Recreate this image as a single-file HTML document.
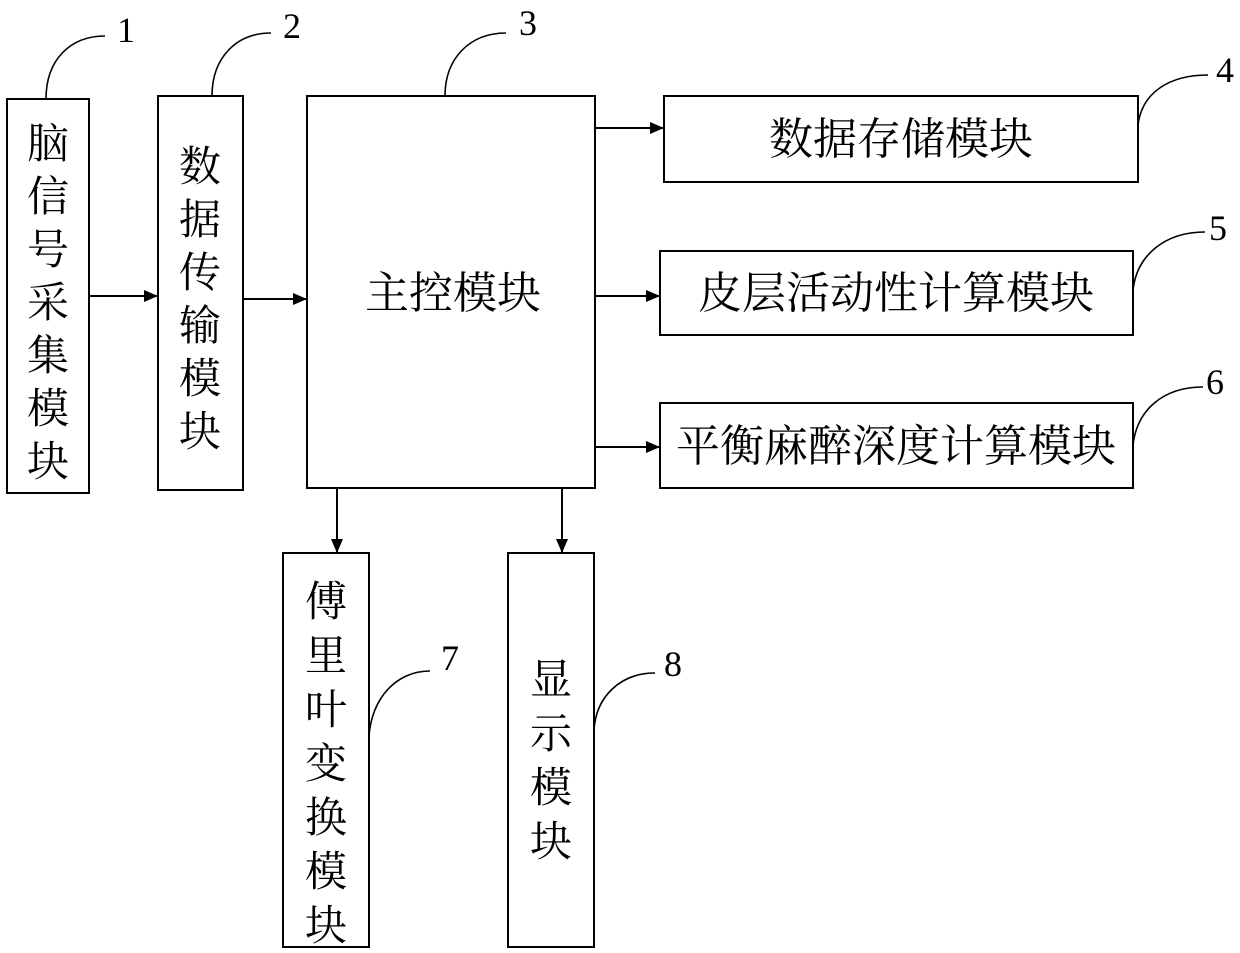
<!DOCTYPE html>
<html><head><meta charset="utf-8"><style>html,body{margin:0;padding:0;background:#fff}</style></head>
<body>
<svg width="1240" height="953" viewBox="0 0 1240 953" xmlns="http://www.w3.org/2000/svg" style="display:block">
<defs><marker id="a" markerWidth="14" markerHeight="12" refX="14" refY="6" orient="auto" markerUnits="userSpaceOnUse"><path d="M0,0 L14,6 L0,12 Z" fill="#000"/></marker></defs>
<g fill="none" stroke="#000" stroke-width="2">
<rect x="7" y="99" width="82" height="394"/>
<rect x="158" y="96" width="85" height="394"/>
<rect x="307" y="96" width="288" height="392"/>
<rect x="664" y="96" width="474" height="86"/>
<rect x="660" y="251" width="473" height="84"/>
<rect x="660" y="403" width="473" height="85"/>
<rect x="283" y="553" width="86" height="394"/>
<rect x="508" y="553" width="86" height="394"/>
<line x1="89" y1="296" x2="158" y2="296" marker-end="url(#a)"/>
<line x1="243" y1="299" x2="307" y2="299" marker-end="url(#a)"/>
<line x1="595" y1="128" x2="664" y2="128" marker-end="url(#a)"/>
<line x1="595" y1="296" x2="660" y2="296" marker-end="url(#a)"/>
<line x1="595" y1="447" x2="660" y2="447" marker-end="url(#a)"/>
<line x1="337" y1="488" x2="337" y2="553" marker-end="url(#a)"/>
<line x1="562" y1="488" x2="562" y2="553" marker-end="url(#a)"/>
<g stroke-width="1.6">
<path d="M46,99 C46,60 70,36 105,36"/>
<path d="M212,96 C212,58 236,33 271,33"/>
<path d="M445,96 C445,58 470,33 506,33"/>
<path d="M1138,125 C1142,92 1170,75 1208,75"/>
<path d="M1133,290 C1137,255 1165,232 1205,232"/>
<path d="M1133,445 C1137,410 1163,387 1203,387"/>
<path d="M369,737 C371,700 395,671 430,671"/>
<path d="M594,730 C596,697 620,673 655,673"/>
</g></g>
<g font-family="'Liberation Serif','Noto Serif CJK SC',serif" font-size="36" text-anchor="middle" fill="#000">
<text x="126" y="42">1</text><text x="292" y="38">2</text><text x="528" y="35">3</text>
<text x="1225" y="82">4</text><text x="1218" y="240">5</text><text x="1215" y="394">6</text>
<text x="450" y="670">7</text><text x="673" y="676">8</text>
</g>
<g font-family="'Liberation Serif','Noto Serif CJK SC',serif" font-size="42" text-anchor="middle" fill="#000">
<text x="48" y="158">脑</text><text x="48" y="211">信</text><text x="48" y="264">号</text><text x="48" y="317">采</text><text x="48" y="370">集</text><text x="48" y="423">模</text><text x="48" y="476">块</text>
<text x="200" y="181">数</text><text x="200" y="234">据</text><text x="200" y="287">传</text><text x="200" y="340">输</text><text x="200" y="393">模</text><text x="200" y="446">块</text>
<text x="326" y="616">傅</text><text x="326" y="670">里</text><text x="326" y="724">叶</text><text x="326" y="778">变</text><text x="326" y="832">换</text><text x="326" y="886">模</text><text x="326" y="940">块</text>
<text x="551" y="694">显</text><text x="551" y="748">示</text><text x="551" y="802">模</text><text x="551" y="856">块</text>
</g>
<g font-family="'Liberation Serif','Noto Serif CJK SC',serif" font-size="44" text-anchor="middle" fill="#000">
<text x="453" y="308">主控模块</text>
<text x="901" y="154">数据存储模块</text>
<text x="896" y="308">皮层活动性计算模块</text>
<text x="896" y="461">平衡麻醉深度计算模块</text>
</g>
</svg>
</body></html>
